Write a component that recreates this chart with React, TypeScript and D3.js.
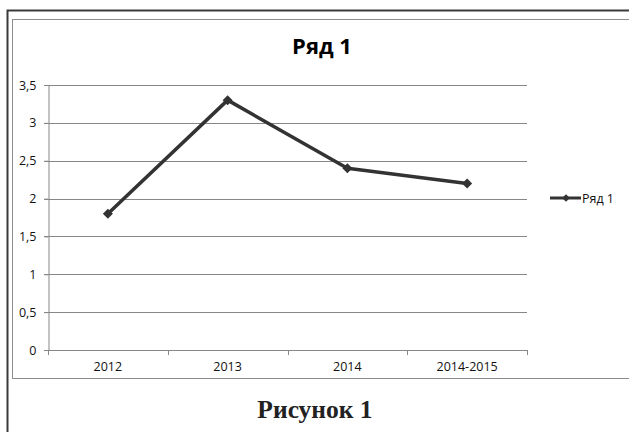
import { useEffect, useRef } from 'react'
import * as d3 from 'd3'

const categories = ['2012', '2013', '2014', '2014-2015']
const seriesName = 'Ряд 1'
const values = [1.8, 3.3, 2.4, 2.2]
const yTicks = [0, 0.5, 1, 1.5, 2, 2.5, 3, 3.5]

const App = () => {
  const ref = useRef<SVGSVGElement>(null)

  useEffect(() => {
    const width = 629
    const height = 432
    const svg = d3.select(ref.current)
    svg.selectAll('*').remove()
    svg.attr('width', width).attr('height', height)

    const font = 'Open Sans, Noto Sans, sans-serif'
    const left = 48
    const right = 527
    const top = 85
    const bottom = 350

    svg.append('rect').attr('width', width).attr('height', height).attr('fill', '#fff')

    // outer frame
    svg.append('path')
      .attr('d', `M7.5,${height} V10.5 H${width}`)
      .attr('fill', 'none').attr('stroke', '#3a3a3a').attr('stroke-width', 2)
    // chart frame
    svg.append('rect')
      .attr('x', 12.5).attr('y', 19.5).attr('width', 640).attr('height', 359)
      .attr('fill', 'none').attr('stroke', '#8c8c8c').attr('stroke-width', 1)

    const x = d3.scaleBand().domain(categories).range([left, right])
    const y = d3.scaleLinear().domain([0, 3.5]).range([bottom, top])

    // gridlines
    svg.append('g').selectAll('line')
      .data(yTicks.filter(d => d > 0))
      .enter().append('line')
      .attr('x1', left - 4).attr('x2', right)
      .attr('y1', d => Math.round(y(d)) + 0.5).attr('y2', d => Math.round(y(d)) + 0.5)
      .attr('stroke', '#878787').attr('stroke-width', 1)

    // y axis
    const yAxis = svg.append('g')
      .attr('transform', `translate(${left + 0.5},0)`)
      .call(d3.axisLeft(y).tickValues(yTicks).tickSize(4).tickPadding(8)
        .tickFormat(d => String(d).replace('.', ',')))
    yAxis.selectAll('path, line').attr('stroke', '#878787')
    yAxis.selectAll('text').attr('font-family', font).attr('font-size', 12.5).attr('fill', '#111')

    // x axis
    const xAxis = svg.append('g')
      .attr('transform', `translate(0,${bottom + 0.5})`)
      .call(d3.axisBottom(x).tickSize(0).tickPadding(12))
    xAxis.select('path').attr('stroke', '#878787').attr('d', `M${left - 4},0H${right}`)
    xAxis.selectAll('text').attr('font-family', font).attr('font-size', 12.5).attr('fill', '#111')
    svg.append('g').selectAll('line')
      .data([...categories.map(c => x(c) as number), right])
      .enter().append('line')
      .attr('x1', d => Math.round(d) + 0.5).attr('x2', d => Math.round(d) + 0.5)
      .attr('y1', bottom).attr('y2', bottom + 5)
      .attr('stroke', '#878787')

    const cx = (c: string) => (x(c) as number) + x.bandwidth() / 2
    const line = d3.line<number>()
      .x((_, i) => cx(categories[i]))
      .y(d => y(d))
    svg.append('path')
      .datum(values)
      .attr('d', line)
      .attr('fill', 'none').attr('stroke', '#333').attr('stroke-width', 3.5)
      .attr('stroke-linejoin', 'round')

    const marker = d3.symbol().type(d3.symbolSquare).size(50)
    svg.append('g').selectAll('path')
      .data(values)
      .enter().append('path')
      .attr('d', marker)
      .attr('transform', (d, i) => `translate(${cx(categories[i])},${y(d)}) rotate(45)`)
      .attr('fill', '#333')

    // title
    svg.append('text')
      .attr('x', 322).attr('y', 54)
      .attr('text-anchor', 'middle')
      .attr('font-family', font).attr('font-weight', 'bold').attr('font-size', 22)
      .text(seriesName)

    // legend
    const lg = svg.append('g').attr('transform', 'translate(550,198)')
    lg.append('line').attr('x1', 0).attr('x2', 31).attr('stroke', '#333').attr('stroke-width', 3)
    lg.append('path').attr('d', d3.symbol().type(d3.symbolSquare).size(30)).attr('transform', 'translate(16,0) rotate(45)').attr('fill', '#333')
    lg.append('text').attr('x', 32).attr('y', 4.5)
      .attr('font-family', font).attr('font-size', 12.5).attr('fill', '#111')
      .text(seriesName)

    // caption
    svg.append('text')
      .attr('x', 315).attr('y', 418)
      .attr('text-anchor', 'middle')
      .attr('font-family', 'Liberation Serif, Times New Roman, serif')
      .attr('font-weight', 'bold').attr('font-size', 25.5).attr('fill', '#222')
      .text('Рисунок 1')
  }, [])

  return <svg ref={ref} style={{ position: 'absolute', left: 0, top: 0 }}></svg>
}

export default App
